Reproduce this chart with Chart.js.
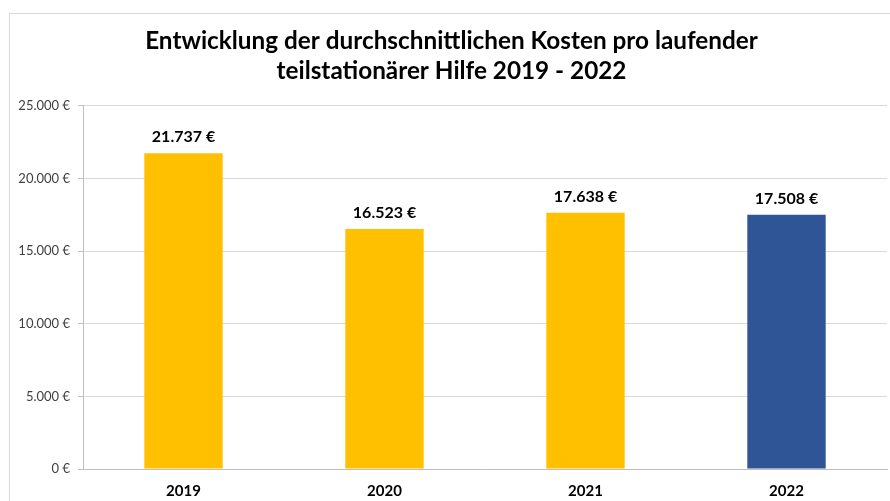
<!DOCTYPE html>
<html lang="de">
<head>
  <meta charset="UTF-8">
  <title>Kosten teilstationärer Hilfe 2019 - 2022</title>
  <script src="https://cdn.jsdelivr.net/npm/chart.js"></script>
  <style>
    html, body { margin: 0; padding: 0; background: #fff; }
    body { width: 890px; height: 501px; position: relative; overflow: hidden; }
    .frame {
      position: absolute; left: 9px; top: 13px;
      width: 920px; height: 560px;
      border: 1px solid #d9d9d9;
    }
    #chart { position: absolute; left: 0; top: 0; }
  </style>
</head>
<body>
  <div class="frame"></div>
  <canvas id="chart" width="890" height="501"></canvas>
  <script>
    const titleLines = ['Entwicklung der durchschnittlichen Kosten pro laufender', 'teilstationärer Hilfe 2019 - 2022'];
    const years = ['2019', '2020', '2021', '2022'];
    const costs = [21737, 16523, 17638, 17508];
    const barColors = ['#FFC000', '#FFC000', '#FFC000', '#2F5597'];
    const yTicks = [0, 5000, 10000, 15000, 20000, 25000];

    const FONT = 'Lato, "Open Sans", sans-serif';
    const euro = v => v.toLocaleString('de-DE') + ' €';

    // Werte über den Balken
    const valueLabels = {
      id: 'valueLabels',
      afterDatasetsDraw(chart) {
        const ctx = chart.ctx;
        const meta = chart.getDatasetMeta(0);
        ctx.save();
        ctx.font = 'bold 16px ' + FONT;
        ctx.fillStyle = '#000';
        ctx.textAlign = 'center';
        ctx.textBaseline = 'bottom';
        meta.data.forEach((bar, i) => {
          ctx.fillText(euro(costs[i]), bar.x, bar.y - 8);
        });
        ctx.restore();
      }
    };

    new Chart(document.getElementById('chart'), {
      type: 'bar',
      data: {
        labels: years,
        datasets: [{
          data: costs,
          backgroundColor: barColors,
          categoryPercentage: 1,
          barPercentage: 0.39
        }]
      },
      options: {
        responsive: false,
        animation: false,
        // links etwas Rand, damit der Titel wie im Original rechts der Mitte sitzt
        layout: { padding: { left: 16, right: 3, top: 0, bottom: 1 } },
        plugins: {
          legend: { display: false },
          tooltip: { enabled: false },
          title: {
            display: true,
            text: titleLines,
            color: '#000',
            font: { family: FONT, size: 24.3, weight: 'bold', lineHeight: 1.23 },
            padding: { top: 26, bottom: 20 }
          }
        },
        scales: {
          x: {
            afterFit: scale => { scale.height = 31; },
            grid: { display: false, drawTicks: false },
            border: { color: '#bfbfbf' },
            ticks: {
              color: '#000',
              padding: 13,
              font: { family: FONT, size: 15, weight: 'bold' }
            }
          },
          y: {
            min: 0,
            max: 25000,
            afterBuildTicks: scale => { scale.ticks = yTicks.map(v => ({ value: v })); },
            afterFit: scale => { scale.width = 67; },
            grid: { color: '#d9d9d9', tickLength: 5, tickColor: '#bfbfbf' },
            border: { color: '#bfbfbf' },
            ticks: {
              color: '#404040',
              padding: 8,
              font: { family: FONT, size: 13 },
              callback: v => euro(v)
            }
          }
        }
      },
      plugins: [valueLabels]
    });
  </script>
</body>
</html>
